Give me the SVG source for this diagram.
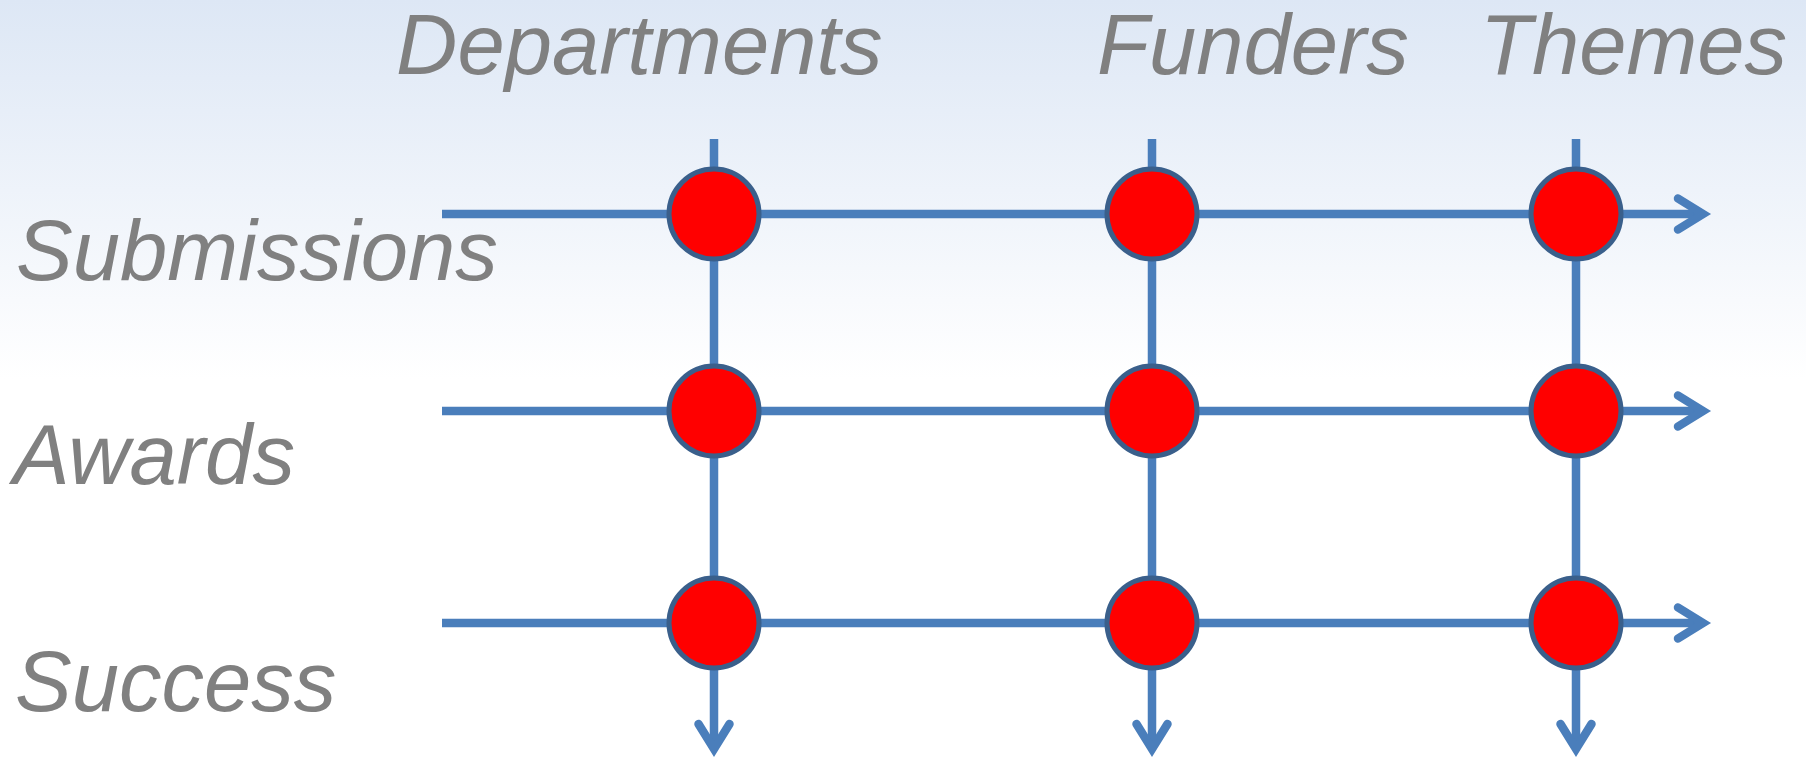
<svg xmlns="http://www.w3.org/2000/svg" width="1806" height="758" viewBox="0 0 1806 758">
<defs>
<linearGradient id="bg" x1="0" y1="0" x2="0" y2="1">
<stop offset="0" stop-color="#dde7f5"/>
<stop offset="0.5" stop-color="#ffffff"/>
<stop offset="1" stop-color="#ffffff"/>
</linearGradient>
<marker id="arr" markerUnits="userSpaceOnUse" markerWidth="60" markerHeight="60" viewBox="-40 -30 60 60" refX="0" refY="0" orient="auto" overflow="visible">
<path d="M-25,-15.5 L0,0 L-25,15.5" fill="none" stroke="#4a7ebb" stroke-width="8.5" stroke-linecap="round" stroke-linejoin="miter" stroke-miterlimit="10"/>
</marker>
<style>
.lbl{font-family:"Liberation Sans",Arial,sans-serif;font-style:italic;font-size:85px;fill:#808080}
.ax{stroke:#4a7ebb;stroke-width:8.5;fill:none;marker-end:url(#arr)}
.dot{fill:#ff0000;stroke:#3a5f8b;stroke-width:5}
</style>
</defs>
<rect x="0" y="0" width="1806" height="758" fill="url(#bg)"/>
<g id="labels">
<text class="lbl" x="396" y="74">Departments</text>
<text class="lbl" x="1097" y="74">Funders</text>
<text class="lbl" x="1480" y="74">Themes</text>
<text class="lbl" x="16" y="280">Submissions</text>
<text class="lbl" x="13" y="484">Awards</text>
<text class="lbl" x="15" y="711">Success</text>
</g>
<g id="connectors">
<line class="ax" x1="442" y1="214" x2="1703" y2="214"/>
<line class="ax" x1="442" y1="411" x2="1703" y2="411"/>
<line class="ax" x1="442" y1="623" x2="1703" y2="623"/>
<line class="ax" x1="714" y1="139" x2="714" y2="749"/>
<line class="ax" x1="1152" y1="139" x2="1152" y2="749"/>
<line class="ax" x1="1576" y1="139" x2="1576" y2="749"/>
</g>
<g id="n-dep-sub"><circle class="dot" cx="714" cy="214" r="45"/></g>
<g id="n-fun-sub"><circle class="dot" cx="1152" cy="214" r="45"/></g>
<g id="n-the-sub"><circle class="dot" cx="1576" cy="214" r="45"/></g>
<g id="n-dep-awa"><circle class="dot" cx="714" cy="411" r="45"/></g>
<g id="n-fun-awa"><circle class="dot" cx="1152" cy="411" r="45"/></g>
<g id="n-the-awa"><circle class="dot" cx="1576" cy="411" r="45"/></g>
<g id="n-dep-suc"><circle class="dot" cx="714" cy="623" r="45"/></g>
<g id="n-fun-suc"><circle class="dot" cx="1152" cy="623" r="45"/></g>
<g id="n-the-suc"><circle class="dot" cx="1576" cy="623" r="45"/></g>
</svg>
